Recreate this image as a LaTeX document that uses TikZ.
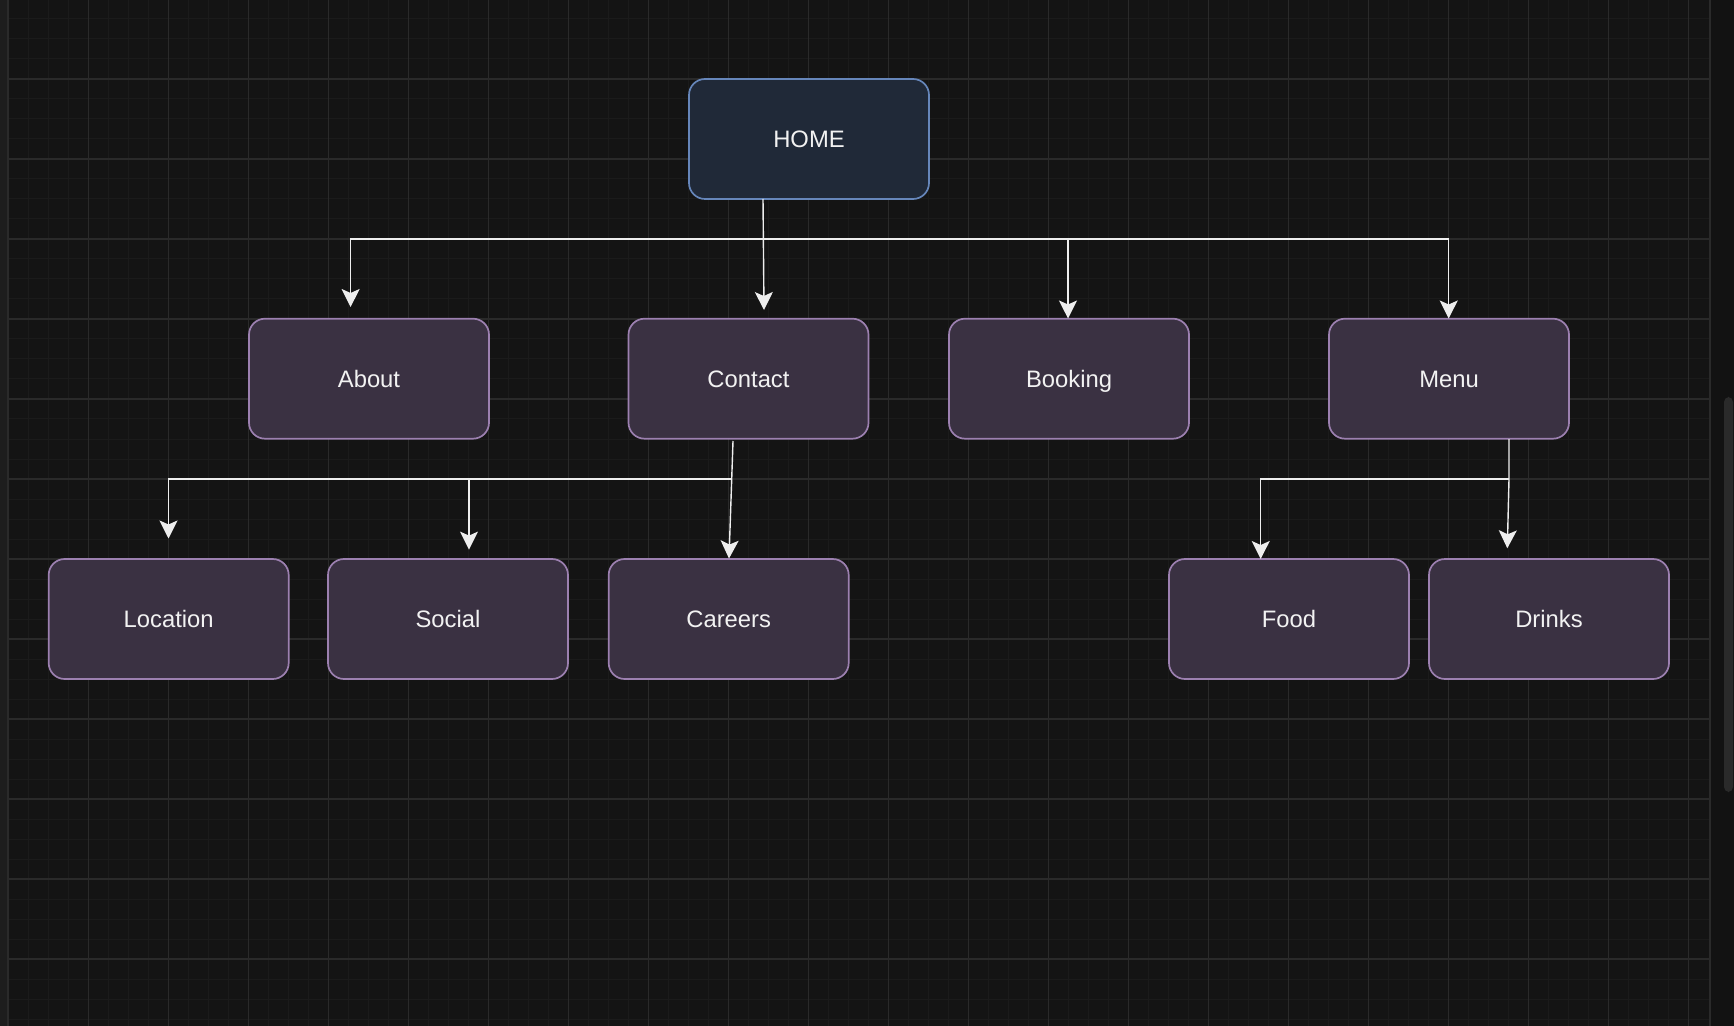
\documentclass[tikz,border=0pt]{standalone}
\usepackage{fontspec}
\setmainfont{Liberation Sans}
\usetikzlibrary{arrows.meta}
\definecolor{bg}{HTML}{141414}
\definecolor{minorgrid}{HTML}{1B1B1B}
\definecolor{majorgrid}{HTML}{2A2A2A}
\definecolor{strip}{HTML}{1D1D1D}
\definecolor{homefill}{HTML}{202938}
\definecolor{homeborder}{HTML}{6686BA}
\definecolor{pagefill}{HTML}{3A3142}
\definecolor{pageborder}{HTML}{9C80B0}
\definecolor{txt}{HTML}{F2F2F2}
\definecolor{wire}{HTML}{EEEEEE}
\tikzset{
  pagebox/.style={draw=pageborder, fill=pagefill, line width=0.85pt, rounded corners=8pt,
    minimum width=120pt, minimum height=60pt, text=txt, font=\fontsize{11.9}{14}\selectfont,
    inner sep=0pt, text height=8.5pt, text depth=0pt},
  homebox/.style={pagebox, draw=homeborder, fill=homefill},
  conn/.style={draw=wire, line width=0.7pt, -{Stealth[length=9pt,width=9pt,inset=2pt]}},
  mingrid/.style={draw=minorgrid, line width=0.5pt},
  majgrid/.style={draw=majorgrid, line width=0.7pt}
}
\begin{document}
\begin{tikzpicture}[x=0.5pt,y=-0.5pt]
\useasboundingbox (0,0) rectangle (1734,1026);
\fill[bg] (0,0) rectangle (1734,1026);
% grid
\foreach \i in {1,...,84} { \draw[mingrid] ({8.7+20*\i},0) -- ({8.7+20*\i},1026); }
\foreach \i in {1,...,51} { \draw[mingrid] (8,{-1+20*\i}) -- (1709,{-1+20*\i}); }
\foreach \i in {1,...,21} { \draw[majgrid] ({8.7+80*\i},0) -- ({8.7+80*\i},1026); }
\foreach \i in {1,...,12} { \draw[majgrid] (8,{-1+80*\i}) -- (1709,{-1+80*\i}); }
% left strip and right panel
\fill[strip] (0,0) rectangle (7,1026);
\draw[majorgrid, line width=1pt] (7.5,0) -- (7.5,1026);
\fill[bg!90!black] (1710,0) rectangle (1734,1026);
\draw[majorgrid, line width=1pt] (1710,0) -- (1710,1026);
\fill[majorgrid, rounded corners=2.5pt] (1724,397) rectangle (1733,792);

% nodes
\node[homebox] (home) at (809,139) {HOME};
\node[pagebox] (about) at (369,378.7) {About};
\node[pagebox] (contact) at (748.5,378.7) {Contact};
\node[pagebox] (booking) at (1069,378.7) {Booking};
\node[pagebox] (menu) at (1449,378.7) {Menu};
\node[pagebox] (location) at (168.7,619) {Location};
\node[pagebox] (social) at (448,619) {Social};
\node[pagebox] (careers) at (728.7,619) {Careers};
\node[pagebox] (food) at (1289,619) {Food};
\node[pagebox] (drinks) at (1549,619) {Drinks};

% connector points
\coordinate (hOut) at (763,199);
\coordinate (hBus) at (763,239);
\coordinate (aboutIn) at (350.6,307);
\coordinate (contactIn) at (764,310);
\coordinate (bookingIn) at (1068,318.5);
\coordinate (menuIn) at (1448.7,318.5);
\coordinate (cOut) at (733,441);
\coordinate (cBus) at (731.5,479);
\coordinate (locationIn) at (168.5,538.5);
\coordinate (socialIn) at (469,549.6);
\coordinate (careersIn) at (729,558.5);
\coordinate (mOut) at (1509,439);
\coordinate (mBus) at (1509,479);
\coordinate (foodIn) at (1260.7,559);
\coordinate (drinksIn) at (1507.3,548.3);

% connectors
\draw[conn] (hOut) -- (contactIn);
\draw[conn] (hBus) -| (aboutIn);
\draw[conn] (hBus) -| (bookingIn);
\draw[conn] (hBus) -| (menuIn);
\draw[conn] (cOut) -- (careersIn);
\draw[conn] (cBus) -| (locationIn);
\draw[conn] (cBus) -| (socialIn);
\draw[conn] (mOut) -- (mBus) -- (drinksIn);
\draw[conn] (mBus) -| (foodIn);
\end{tikzpicture}
\end{document}
